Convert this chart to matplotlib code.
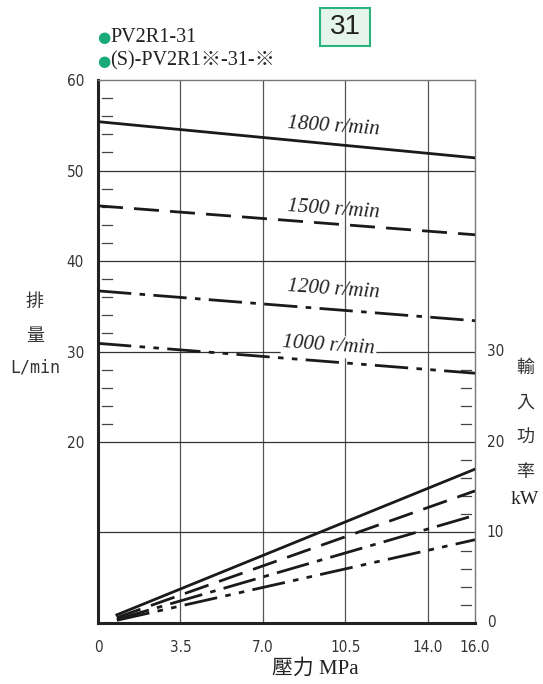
import numpy as np
import matplotlib.pyplot as plt
from matplotlib.patches import Rectangle

plt.rcParams['font.family'] = ['Liberation Serif', 'Noto Sans CJK TC', 'DejaVu Sans']

# flow (L/min) at 0 and 16 MPa
speeds = ["1800 r/min", "1500 r/min", "1200 r/min", "1000 r/min"]
flow_p = [0.0, 16.0]
flow_q = [
    [55.4, 51.4],
    [46.1, 42.9],
    [36.7, 33.4],
    [30.9, 27.6],
]

# input power (kW)
power_p = [0.8, 16.0]
power_kw = [
    [0.9, 17.0],
    [0.6, 14.6],
    [0.4, 11.9],
    [0.3, 9.2],
]

styles = [
    "-",
    (0, (9, 4)),
    (0, (12, 3, 2, 3)),
    (0, (12, 3, 2, 3, 2, 3)),
]
label_pos = [(10.0, 54.8), (10.0, 45.7), (10.0, 36.8), (9.8, 30.6)]

xticks = [0, 3.5, 7.0, 10.5, 14.0, 16.0]
xticklabels = ["0", "3.5", "7.0", "10.5", "14.0", "16.0"]
yticks_left = [20, 30, 40, 50, 60]
yticks_right = [0, 10, 20, 30]

fig = plt.figure(figsize=(5.43, 6.84), dpi=100)
ax = fig.add_axes([0.1805, 0.0892, 0.6943, 0.7938])
ax.set_xlim(0, 16)
ax.set_ylim(0, 60)

# grid
for x in [3.5, 7.0, 10.5, 14.0]:
    ax.axvline(x, color="#555555", lw=0.9, zorder=1)
for y in [10, 20, 30, 40, 50]:
    ax.axhline(y, color="#333333", lw=0.9, zorder=1)

for sp in ax.spines.values():
    sp.set_color("#777777")
    sp.set_linewidth(1.0)
ax.spines["left"].set_color("#222222")
ax.spines["left"].set_linewidth(2.2)
ax.spines["bottom"].set_color("#222222")
ax.spines["bottom"].set_linewidth(2.2)

ax.set_xticks(xticks)
ax.set_xticklabels(xticklabels)
ax.set_yticks(yticks_left)
ax.tick_params(axis="both", length=0, labelsize=11, colors="#333333")
ax.tick_params(axis="x", pad=12)
ax.tick_params(axis="y", pad=10)
for t in ax.get_xticklabels() + ax.get_yticklabels():
    t.set_family(["Liberation Sans Narrow", "DejaVu Sans"])
    t.set_stretch("condensed")

# minor ticks inside
for y in np.arange(22, 60, 2):
    if y % 10:
        ax.plot([0.15, 0.6], [y, y], color="#444444", lw=0.9, zorder=2)
for y in np.arange(2, 30, 2):
    if y % 10:
        ax.plot([15.4, 15.85], [y, y], color="#444444", lw=0.9, zorder=2)

for q, ls in zip(flow_q, styles):
    ax.plot(flow_p, q, color="#1a1a1a", lw=2.0, linestyle=ls, zorder=3)
for pw, ls in zip(power_kw, styles):
    ax.plot(power_p, pw, color="#1a1a1a", lw=2.0, linestyle=ls, zorder=3)

for lab, (x, y) in zip(speeds, label_pos):
    bbox = None
    if lab.startswith("1000"):
        bbox = dict(facecolor="white", edgecolor="none", pad=1)
    ax.text(x, y, lab, fontsize=15, style="italic", ha="center", va="center",
            rotation=-4, color="#222222", bbox=bbox, zorder=4)

# right axis labels
for v in yticks_right:
    ax.text(16.5, v, str(v), fontsize=11, ha="left", va="center", color="#333333",
            family=["Liberation Sans Narrow", "DejaVu Sans"], stretch="condensed")

# axis titles
fig.text(35 / 543, 1 - 303 / 684, "排", fontsize=13, ha="center", va="center", color="#333333")
fig.text(35 / 543, 1 - 336 / 684, "量", fontsize=13, ha="center", va="center", color="#333333")
fig.text(35 / 543, 1 - 368 / 684, "L/min", fontsize=12, ha="center", va="center", color="#333333",
         family=["DejaVu Sans Mono"])
for i, ch in enumerate(["輸", "入", "功", "率"]):
    fig.text(525 / 543, 1 - (368 + i * 35) / 684, ch, fontsize=13, ha="center", va="center",
             color="#333333")
fig.text(525 / 543, 1 - 500 / 684, "kW", fontsize=14, ha="center", va="center", color="#222222")
fig.text(315 / 543, 1 - 669 / 684, "壓力 MPa", fontsize=15, ha="center", va="center", color="#222222")

# legend lines
fig.text(97 / 543, 1 - 37 / 684, "●", fontsize=11, ha="left", va="center", color="#1aaa78",
         family=["DejaVu Sans"])
fig.text(110 / 543, 1 - 37 / 684, "PV2R1-31", fontsize=14.5, ha="left", va="center", color="#222222")
fig.text(97 / 543, 1 - 61 / 684, "●", fontsize=11, ha="left", va="center", color="#1aaa78",
         family=["DejaVu Sans"])
fig.text(110 / 543, 1 - 61 / 684, "(S)-PV2R1※-31-※", fontsize=14.5, ha="left", va="center",
         color="#222222")

# title box
fig.patches.append(Rectangle((320 / 543, 1 - 46 / 684), 50 / 543, 38 / 684,
                             transform=fig.transFigure, facecolor="#e6f5ec",
                             edgecolor="#2bb37c", lw=1.5))
fig.text(345 / 543, 1 - 27 / 684, "31", fontsize=20, ha="center", va="center",
         color="#222222", family=["Liberation Sans", "DejaVu Sans"])

fig.savefig("out.png", dpi=100)
